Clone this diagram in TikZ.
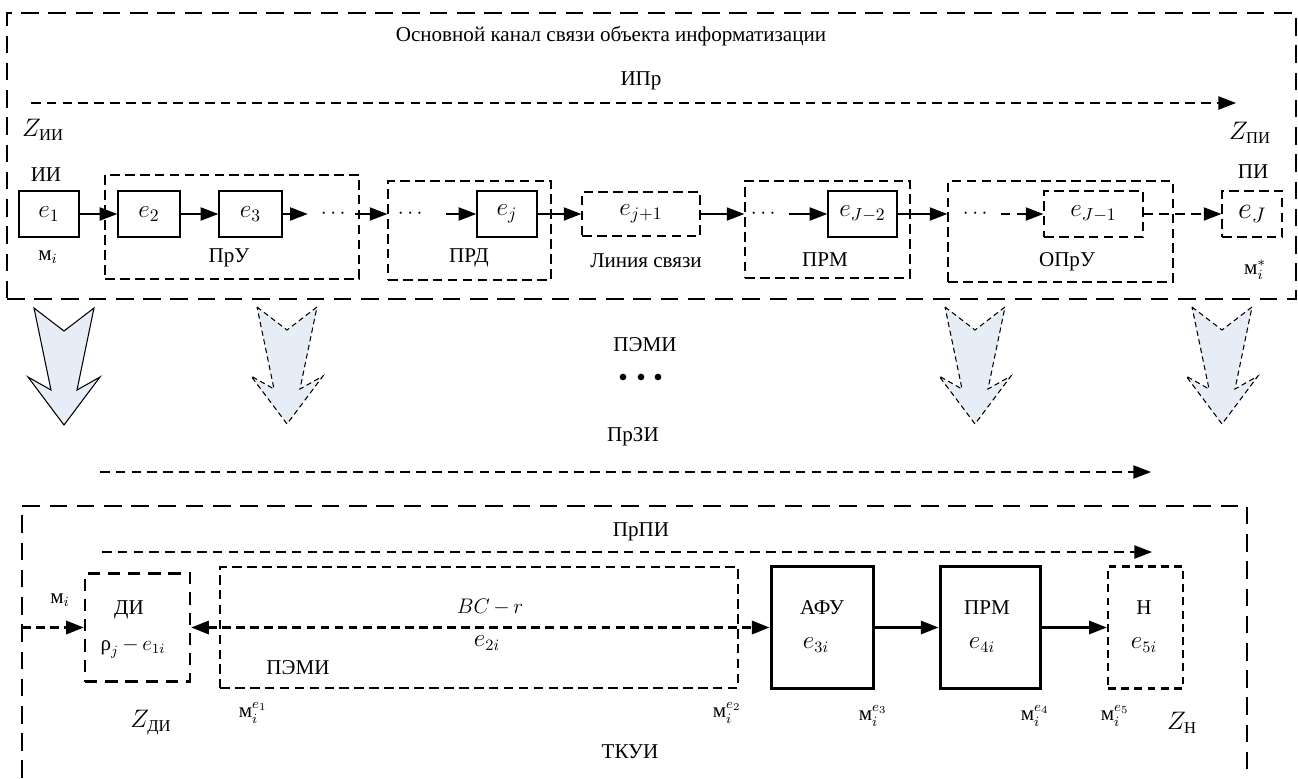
\documentclass[tikz,border=0pt]{standalone}
\usepackage{amsmath}
\usepackage{fontspec}
\setmainfont{Liberation Serif}
\usepackage{tikz}
\usetikzlibrary{arrows.meta}
\usetikzlibrary{positioning}
\definecolor{leakfill}{RGB}{230,237,247}
\tikzset{
    wh/.style 2 args={minimum width=#1*0.02cm, minimum height=#2*0.02cm},
    block/.style={
           rectangle,
           draw=black, line width=0.8pt,
           inner sep=0pt,
           text centered,
           font=\fontsize{14}{16}\selectfont,
           },
    heavyblock/.style={block, line width=1.7pt},
    grp/.style={rectangle, draw=black, line width=0.75pt,
           dash pattern=on 5.5pt off 3pt, inner sep=0pt,
           font=\fontsize{14}{16}\selectfont},
    dgrp/.style={grp, line width=1.4pt, dash pattern=on 7pt off 4.5pt},
    ngrp/.style={grp, line width=1.4pt, dash pattern=on 4.5pt off 3pt},
    bigframe/.style={draw=black, line width=1.6pt, dash pattern=on 10pt off 5.5pt},
    mlabel/.style={font=\fontsize{13.5}{16}\selectfont},
    flow/.style={->, line width=0.8pt},
    heavyflow/.style={->, line width=1.3pt},
    longflow/.style={->, line width=0.8pt, dash pattern=on 5.5pt off 3.5pt},
    dflow/.style={line width=1.5pt, dash pattern=on 5pt off 3pt},
    leak/.pic={
        \path[fill=leakfill, draw] (-30,1) -- (0,24) -- (30,1) -- (13,83)
            -- (36,70) -- (0,118) -- (-36,70) -- (-13,83) -- cycle;
    },
}

\begin{document}
\begin{tikzpicture}[x=0.02cm, y=-0.02cm,
    >={Triangle[length=10pt,width=7.5pt]},
    every node/.append style={font=\fontsize{12}{14}\selectfont}]
      \useasboundingbox (0,0) rectangle (1298,778);

      % main channel
      \node[bigframe, wh={1289}{286}] (channel) at (651.5,156) {};
      \node (title) at (611,36) {Основной канал связи объекта информатизации};
      \node (ipr) at (641,81) {ИПр};
      \coordinate (ipr_a) at (31,103);
      \coordinate (ipr_b) at (1236,103);
      \draw[longflow] (ipr_a) -- (ipr_b);
      \node[mlabel] (z_ii) at (43,130) {$Z_{\text{ИИ}}$};
      \node[mlabel] (z_pi) at (1250,133) {$Z_{\text{ПИ}}$};
      \node (ii) at (46,175) {ИИ};
      \node (pi) at (1253,172) {ПИ};

      \node[grp, wh={254}{104}] (pru)  at (232,227)    {};
      \node[grp, wh={163}{99}]  (prd)  at (469.5,230.5) {};
      \node[grp, wh={165}{97}]  (prm)  at (827.5,229.5) {};
      \node[grp, wh={225}{101}] (opru) at (1060.5,231.5) {};
      \node (pru_l)  at (229,258)  {ПрУ};
      \node (prd_l)  at (469,258)  {ПРД};
      \node (line_l) at (646,261)  {Линия связи};
      \node (prm_l)  at (825,260)  {ПРМ};
      \node (opru_l) at (1067,262) {ОПрУ};

      \node[block, wh={60}{46}]  (e_1)  at (49,214)     {$e_1$};
      \node[block, wh={62}{46}]  (e_2)  at (149,214)    {$e_2$};
      \node[block, wh={63}{46}]  (e_3)  at (250.5,214)  {$e_3$};
      \node[block, wh={60}{46}]  (e_j)  at (507,214)    {$e_j$};
      \node[grp,   wh={118}{44}] (e_j1) at (641,214)    {$e_{j+1}$};
      \node[block, wh={69}{46}]  (e_J2) at (862.5,214)  {$e_{J-2}$};
      \node[grp,   wh={99}{46}]  (e_J1) at (1093.5,214) {$e_{J-1}$};
      \node[grp,   wh={60}{46}]  (e_J)  at (1252,214)
            {\fontsize{18}{20}\selectfont$e_J$};
      \node (m_i)   at (48,257)   {$\text{м}_i$};
      \node (m_ist) at (1255,270) {$\text{м}_i^{*}$};

      \node (dots_1) at (335,214)  {$\cdots$};
      \node (dots_2) at (412,214)  {$\cdots$};
      \node (dots_3) at (765,214)  {$\cdots$};
      \node (dots_4) at (977,214)  {$\cdots$};

      \draw[flow] (e_1) -- (e_2);
      \draw[flow] (e_2) -- (e_3);
      \draw[flow, shorten >=4pt] (e_3) -- (dots_1);
      \draw[flow] (dots_1) -- (prd.west |- dots_1);
      \draw[flow, shorten <=8pt] (dots_2) -- (e_j);
      \draw[flow] (e_j) -- (e_j1);
      \draw[flow] (e_j1) -- (prm.west |- e_j1);
      \draw[flow, shorten <=2pt] (dots_3) -- (e_J2);
      \draw[flow] (e_J2) -- (opru.west |- e_J2);
      \draw[longflow, shorten <=2pt] (dots_4) -- (e_J1);
      \draw[longflow] (e_J1) -- (e_J);

      % leakage
      \pic[line width=0.6pt] at (64,307) {leak};
      \pic[line width=0.6pt, dash pattern=on 3pt off 2pt] at (287,306) {leak};
      \pic[line width=0.6pt, dash pattern=on 3pt off 2pt] at (975,306) {leak};
      \pic[line width=0.6pt, dash pattern=on 3pt off 2pt] at (1222,306) {leak};
      \node (pemi) at (645,345) {ПЭМИ};
      \fill (623,377) circle (1.9pt) (641,377) circle (1.9pt) (658,377) circle (1.9pt);
      \node (przi) at (633,437) {ПрЗИ};
      \coordinate (przi_a) at (100,472);
      \coordinate (przi_b) at (1151,472);
      \draw[longflow] (przi_a) -- (przi_b);

      % technical channel
      \draw[bigframe] (22,778) -- (22,506) -- (1247,506) -- (1247,778);
      \node (prpi) at (641,532) {ПрПИ};
      \coordinate (prpi_a) at (102,552);
      \coordinate (prpi_b) at (1152,552);
      \draw[longflow] (prpi_a) -- (prpi_b);

      \node[dgrp, wh={105}{108}] (di)   at (137.5,627.5) {};
      \node[grp,  wh={518}{121}] (pemi_box) at (479,627.5) {};
      \node[heavyblock, wh={102}{122}] (afu) at (822,627.5) {};
      \node[heavyblock, wh={100}{122}] (rx)  at (990,627.5) {};
      \node[ngrp, wh={75}{122}] (nn)  at (1145.5,627.5) {};

      \node (di_t)   at (129,610)  {ДИ};
      \node (di_e)   at (133,648)  {$\text{ρ}_j\,{-}\,e_{1i}$};
      \node (pemi_t) at (298,668)  {ПЭМИ};
      \node (bc)     at (490,607)  {$BC\,{-}\,r$};
      \node[mlabel] (e_2i)   at (487,643)  {$e_{2i}$};
      \node (afu_t)  at (822,608)  {АФУ};
      \node[mlabel] (e_3i)   at (816,645)  {$e_{3i}$};
      \node (rx_t)   at (987,608)  {ПРМ};
      \node[mlabel] (e_4i)   at (982,645)  {$e_{4i}$};
      \node (nn_t)   at (1144,608) {Н};
      \node[mlabel] (e_5i)   at (1144,645) {$e_{5i}$};
      \node (m_in)   at (60,600)   {$\text{м}_i$};

      \coordinate (di_in) at (22,627.5);
      \draw[dflow, ->] (di_in) -- (di.west);
      \draw[dflow, <->] (di.east) -- (afu.west);
      \draw[heavyflow] (afu) -- (rx);
      \draw[heavyflow] (rx) -- (nn);

      \node[mlabel] (z_di) at (151,723)  {$Z_{\text{ДИ}}$};
      \node (m_e1) at (253,713)  {$\text{м}_i^{e_1}$};
      \node (m_e2) at (727,713)  {$\text{м}_i^{e_2}$};
      \node (m_e3) at (873,716)  {$\text{м}_i^{e_3}$};
      \node (m_e4) at (1035,716) {$\text{м}_i^{e_4}$};
      \node (m_e5) at (1115,716) {$\text{м}_i^{e_5}$};
      \node[mlabel] (z_n)  at (1182,723) {$Z_{\text{Н}}$};
      \node (tkui) at (630,752)  {ТКУИ};
\end{tikzpicture}
\end{document}
